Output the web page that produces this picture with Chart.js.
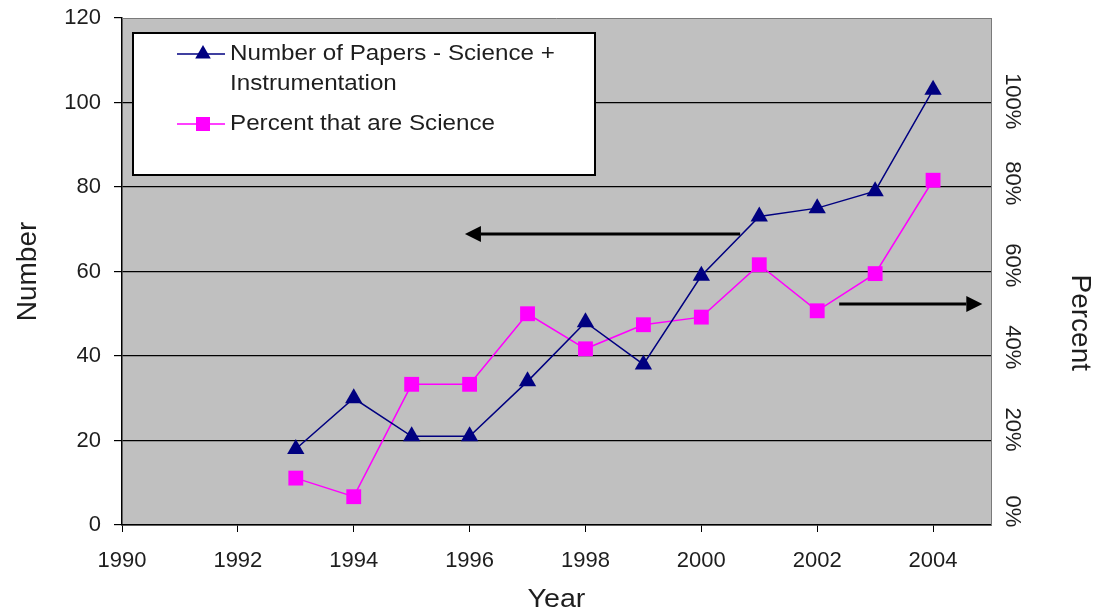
<!DOCTYPE html>
<html>
<head>
<meta charset="utf-8">
<title>Number of Papers and Percent Science</title>
<script src="https://cdn.jsdelivr.net/npm/chart.js@4/dist/chart.umd.min.js"></script>
<style>
  html, body { margin: 0; padding: 0; background: #ffffff; }
  canvas { display: block; }
</style>
</head>
<body>
<canvas id="chart" width="1107" height="616"></canvas>
<script>
// Publication years
const years = [1993, 1994, 1995, 1996, 1997, 1998, 1999, 2000, 2001, 2002, 2003, 2004];
// Number of papers (science + instrumentation) per year
const papers = [18, 30, 21, 21, 34, 48, 38, 59, 73, 75, 79, 103];
// Share of those papers that are science, in percent
const percentScience = [11.1, 6.7, 33.3, 33.3, 50.0, 41.7, 47.4, 49.2, 61.6, 50.7, 59.5, 81.6];

// Axis ticks
const yearTicks = [1990, 1992, 1994, 1996, 1998, 2000, 2002, 2004];
const numberTicks = [0, 20, 40, 60, 80, 100, 120];
const percentTicks = [0, 20, 40, 60, 80, 100];
const percentLabels = ['0%', '20%', '40%', '60%', '80%', '100%'];
// Placement range of the percent labels on the right-hand axis
const percentAxisMin = -3.3;
const percentAxisMax = 120.3;

// Legend entries
const seriesNames = [['Number of Papers - Science +', 'Instrumentation'], ['Percent that are Science']];

// Annotation arrows: [year, value] start and end points
const arrowToNumber = [[2000.67, 68.9], [1995.92, 68.9]];
const arrowToPercent = [[2002.38, 52.3], [2004.85, 52.3]];

const NAVY = '#000080';
const MAGENTA = '#ff00ff';
const TEXT = '#1e1e1e';
const FONT = '"Liberation Sans", Arial, sans-serif';
const WIDEN = 1.1; // horizontal stretch of hand-drawn text

function drawTriangle(ctx, x, y, r) {
  ctx.beginPath();
  ctx.moveTo(x, y - r);
  ctx.lineTo(x + r * 0.866, y + r * 0.5);
  ctx.lineTo(x - r * 0.866, y + r * 0.5);
  ctx.closePath();
  ctx.fill();
}

function wideText(ctx, text, x, y) {
  ctx.save();
  ctx.translate(x, y);
  ctx.scale(WIDEN, 1);
  ctx.fillText(text, 0, 0);
  ctx.restore();
}

function drawArrow(ctx, chart, pts) {
  const xs = chart.scales.x, ys = chart.scales.y;
  const x1 = xs.getPixelForValue(pts[0][0]);
  const y1 = ys.getPixelForValue(pts[0][1]);
  const x2 = xs.getPixelForValue(pts[1][0]);
  const y2 = ys.getPixelForValue(pts[1][1]);
  const ang = Math.atan2(y2 - y1, x2 - x1);
  const head = 16, half = 8;
  const bx = x2 - head * Math.cos(ang);
  const by = y2 - head * Math.sin(ang);
  ctx.save();
  ctx.strokeStyle = '#000';
  ctx.fillStyle = '#000';
  ctx.lineWidth = 3;
  ctx.beginPath();
  ctx.moveTo(x1, y1);
  ctx.lineTo(bx, by);
  ctx.stroke();
  ctx.beginPath();
  ctx.moveTo(x2, y2);
  ctx.lineTo(bx - half * Math.sin(ang), by + half * Math.cos(ang));
  ctx.lineTo(bx + half * Math.sin(ang), by - half * Math.cos(ang));
  ctx.closePath();
  ctx.fill();
  ctx.restore();
}

const decorations = {
  id: 'decorations',
  beforeDraw(chart) {
    const { ctx, chartArea: a } = chart;
    ctx.save();
    ctx.fillStyle = '#c0c0c0';
    ctx.fillRect(a.left, a.top, a.right - a.left, a.bottom - a.top);
    ctx.restore();
  },
  afterDatasetsDraw(chart) {
    const { ctx, chartArea: a } = chart;
    drawArrow(ctx, chart, arrowToNumber);
    drawArrow(ctx, chart, arrowToPercent);

    // Legend box
    const lx = a.left + 11, ly = a.top + 15, lw = 462, lh = 142;
    ctx.save();
    ctx.fillStyle = '#ffffff';
    ctx.fillRect(lx, ly, lw, lh);
    ctx.strokeStyle = '#000';
    ctx.lineWidth = 2;
    ctx.strokeRect(lx, ly, lw, lh);

    const symX = lx + 70, textX = lx + 97;
    const rows = [ly + 21, ly + 51, ly + 91];
    ctx.lineWidth = 1.5;
    ctx.strokeStyle = NAVY;
    ctx.beginPath(); ctx.moveTo(lx + 44, rows[0]); ctx.lineTo(lx + 92, rows[0]); ctx.stroke();
    ctx.fillStyle = NAVY;
    drawTriangle(ctx, symX, rows[0], 9);
    ctx.strokeStyle = MAGENTA;
    ctx.beginPath(); ctx.moveTo(lx + 44, rows[2]); ctx.lineTo(lx + 92, rows[2]); ctx.stroke();
    ctx.fillStyle = MAGENTA;
    ctx.fillRect(symX - 7, rows[2] - 7, 14, 14);

    ctx.fillStyle = TEXT;
    ctx.font = '22px ' + FONT;
    ctx.textAlign = 'left';
    ctx.textBaseline = 'middle';
    wideText(ctx, seriesNames[0][0], textX, rows[0]);
    wideText(ctx, seriesNames[0][1], textX, rows[1]);
    wideText(ctx, seriesNames[1][0], textX, rows[2]);
    ctx.restore();
  },
  afterDraw(chart) {
    const { ctx, chartArea: a } = chart;
    const pct = chart.scales.pct;
    ctx.save();
    // Top border of the plot area
    ctx.strokeStyle = '#7a7a7a';
    ctx.lineWidth = 1;
    ctx.beginPath(); ctx.moveTo(a.left, a.top + 0.5); ctx.lineTo(a.right, a.top + 0.5); ctx.stroke();

    ctx.fillStyle = TEXT;
    ctx.textAlign = 'center';
    ctx.textBaseline = 'middle';

    // Percent tick labels, rotated
    ctx.font = '22px ' + FONT;
    percentTicks.forEach((v, i) => {
      ctx.save();
      ctx.translate(a.right + 21, pct.getPixelForValue(v));
      ctx.rotate(Math.PI / 2);
      ctx.fillText(percentLabels[i], 0, 0);
      ctx.restore();
    });

    // Axis titles
    ctx.font = '26px ' + FONT;
    wideText(ctx, 'Year', (a.left + a.right) / 2, 600);

    ctx.font = '28px ' + FONT;
    ctx.save();
    ctx.translate(28, (a.top + a.bottom) / 2);
    ctx.rotate(-Math.PI / 2);
    ctx.fillText('Number', 0, 0);
    ctx.restore();

    ctx.save();
    ctx.translate(1080, pct.getPixelForValue(46));
    ctx.rotate(Math.PI / 2);
    ctx.fillText('Percent', 0, 0);
    ctx.restore();
    ctx.restore();
  }
};

new Chart(document.getElementById('chart'), {
  type: 'line',
  data: {
    datasets: [
      {
        label: seriesNames[0].join(' '),
        data: years.map((y, i) => ({ x: y, y: papers[i] })),
        borderColor: NAVY,
        backgroundColor: NAVY,
        borderWidth: 1.5,
        pointStyle: 'triangle',
        pointRadius: 10,
        pointBorderWidth: 0,
        tension: 0,
        yAxisID: 'y'
      },
      {
        label: seriesNames[1][0],
        data: years.map((y, i) => ({ x: y, y: percentScience[i] })),
        borderColor: MAGENTA,
        backgroundColor: MAGENTA,
        borderWidth: 1.5,
        pointStyle: 'rect',
        pointRadius: 10.5,
        pointBorderWidth: 0,
        tension: 0,
        yAxisID: 'y'
      }
    ]
  },
  options: {
    responsive: false,
    animation: false,
    layout: { padding: { top: 18, left: 0, right: 0, bottom: 0 } },
    plugins: { legend: { display: false }, tooltip: { enabled: false } },
    scales: {
      x: {
        type: 'linear',
        min: 1990,
        max: 2005,
        afterBuildTicks: s => { s.ticks = yearTicks.map(v => ({ value: v })); },
        afterFit: s => { s.height = 91; },
        grid: { drawOnChartArea: false, drawTicks: true, tickLength: 7, color: '#000', lineWidth: 1 },
        border: { display: true, color: '#000', width: 1.5 },
        ticks: {
          color: TEXT,
          font: { family: FONT, size: 22 },
          padding: 16,
          maxRotation: 0,
          callback: v => String(v)
        }
      },
      y: {
        type: 'linear',
        position: 'left',
        min: 0,
        max: 120,
        afterBuildTicks: s => { s.ticks = numberTicks.map(v => ({ value: v })); },
        afterFit: s => { s.width = 122; s.paddingTop = 0; s.paddingBottom = 0; },
        grid: {
          color: c => (c.tick && c.tick.value === 120 ? 'rgba(0,0,0,0)' : '#000'),
          tickColor: '#000',
          lineWidth: 1.2,
          tickLength: 8
        },
        border: { display: true, color: '#000', width: 1.5 },
        ticks: {
          color: TEXT,
          font: { family: FONT, size: 22 },
          padding: 13
        }
      },
      pct: {
        type: 'linear',
        position: 'right',
        min: percentAxisMin,
        max: percentAxisMax,
        afterFit: s => { s.width = 116; s.paddingTop = 0; s.paddingBottom = 0; },
        grid: { display: false },
        border: { display: true, color: '#7a7a7a', width: 1 },
        ticks: { display: false }
      }
    }
  },
  plugins: [decorations]
});
</script>
</body>
</html>
